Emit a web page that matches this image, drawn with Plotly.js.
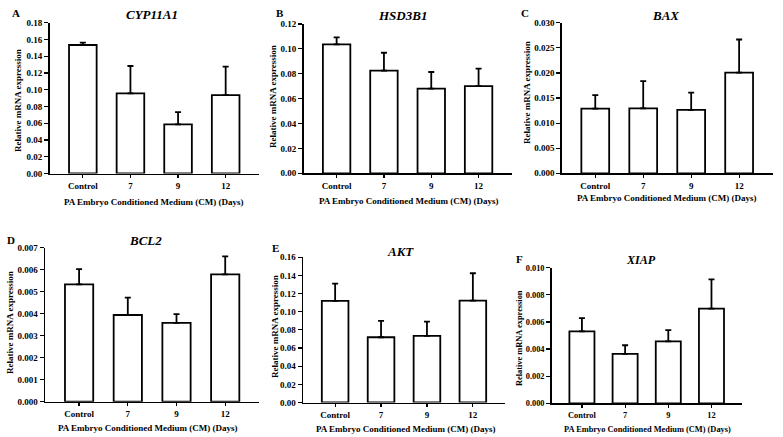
<!DOCTYPE html>
<html><head><meta charset="utf-8">
<script src="https://cdn.plot.ly/plotly-3.0.1.min.js"></script>
<style>html,body{margin:0;padding:0;background:#fff}#chart{width:783px;height:437px}</style>
</head><body><div id="chart"></div>
<script>
// ---- data ----
const categories = ['Control', '7', '9', '12'];
const geneNames = ['CYP11A1', 'HSD3B1', 'BAX', 'BCL2', 'AKT', 'XIAP'];
const panelLetters = ['A', 'B', 'C', 'D', 'E', 'F'];
const cyp11a1 = [0.1534, 0.0956, 0.0586, 0.0936];
const cyp11a1Err = [0.0028, 0.0327, 0.0147, 0.0339];
const hsd3b1 = [0.1036, 0.0825, 0.0680, 0.0701];
const hsd3b1Err = [0.0056, 0.0144, 0.0134, 0.0140];
const bax = [0.01288, 0.01295, 0.01262, 0.02005];
const baxErr = [0.0027, 0.0054, 0.00345, 0.0066];
const bcl2 = [0.00533, 0.00394, 0.00358, 0.00579];
const bcl2Err = [0.0007, 0.00079, 0.0004, 0.00082];
const akt = [0.1119, 0.0719, 0.0734, 0.1123];
const aktErr = [0.0191, 0.0180, 0.0158, 0.0301];
const xiap = [0.00531, 0.00364, 0.00457, 0.00698];
const xiapErr = [0.00097, 0.00064, 0.00083, 0.00216];
const yMax = [0.18, 0.12, 0.030, 0.007, 0.16, 0.010];
const yStep = [0.02, 0.02, 0.005, 0.001, 0.02, 0.002];
const yFormat = ['.2f', '.2f', '.3f', '.3f', '.2f', '.3f'];
const xTitle = 'PA Embryo Conditioned Medium (CM) (Days)';
const yTitle = 'Relative mRNA expression';

const values = [cyp11a1, hsd3b1, bax, bcl2, akt, xiap];
const errors = [cyp11a1Err, hsd3b1Err, baxErr, bcl2Err, aktErr, xiapErr];

// ---- layout geometry (pixels) ----
const W = 783, H = 437;
const boxes = [
  {x0: 49.5, x1: 259, y0: 22.7, y1: 173.5},
  {x0: 303.5, x1: 511.7, y0: 24, y1: 173.3},
  {x0: 561.7, x1: 772.7, y0: 22.7, y1: 173.3},
  {x0: 45, x1: 259.3, y0: 247.7, y1: 401.7},
  {x0: 303, x1: 505, y0: 257.3, y1: 402.5},
  {x0: 551.7, x1: 741.7, y0: 267.7, y1: 403.3}
];
const titlePos = [[152,14],[402,15],[665,15],[145,240],[400,251],[641,260]];
const letterPos = [[16,13],[280,13],[525,13],[11,240],[275,248],[519,259]];
const yTitlePos = [[18,101],[273,97],[527,93],[10,323],[275,327],[519,338]];
const xTitlePos = [[154,201.5],[409,201],[667,198.5],[148,428],[406,428.5],[647,429]];
const fontScale = [1,1,1,1,1,0.93];

const FAM = '"Liberation Serif", "Times New Roman", serif';
const catPos = categories.map((c, i) => i);

const traces = [];
const layout = {
  width: W, height: H, margin: {l:0, r:0, t:0, b:0},
  paper_bgcolor: '#fff', plot_bgcolor: '#fff', showlegend: false,
  font: {family: FAM, color: '#000'},
  annotations: []
};

for (let p = 0; p < 6; p++) {
  const n = p === 0 ? '' : String(p + 1);
  const b = boxes[p];
  const fs = 9 * fontScale[p];
  traces.push({
    type: 'bar', x: catPos, y: values[p], xaxis: 'x' + n, yaxis: 'y' + n,
    width: 0.58,
    marker: {color: '#fff', line: {color: '#000', width: 1.8}},
    error_y: {type: 'data', symmetric: false, array: errors[p],
      arrayminus: errors[p].map(() => 0), color: '#000', thickness: 1.8, width: 3},
    hoverinfo: 'skip'
  });
  const ticks = [];
  for (let k = 0; k <= Math.round(yMax[p] / yStep[p]); k++) ticks.push(k * yStep[p]);
  layout['xaxis' + n] = {
    domain: [b.x0 / W, b.x1 / W], anchor: 'y' + n,
    range: [-0.7, 3.7], fixedrange: true,
    tickvals: catPos, ticktext: categories,
    ticks: 'outside', ticklen: 3, tickwidth: 1.2, tickcolor: '#000',
    showline: true, linecolor: '#000', linewidth: 1.5,
    showgrid: false, zeroline: false,
    tickfont: {family: FAM, size: fs, weight: 'bold', color: '#000'}
  };
  layout['yaxis' + n] = {
    domain: [1 - b.y1 / H, 1 - b.y0 / H], anchor: 'x' + n,
    range: [0, yMax[p]], fixedrange: true,
    tickvals: ticks, tickformat: yFormat[p],
    ticks: 'outside', ticklen: 4, tickwidth: 1.2, tickcolor: '#000',
    showline: true, linecolor: '#000', linewidth: 1.5,
    showgrid: false, zeroline: false,
    tickfont: {family: FAM, size: fs, weight: 'bold', color: '#000'}
  };
  layout.annotations.push(
    {text: '<b><i>' + geneNames[p] + '</i></b>', x: titlePos[p][0] / W, y: 1 - titlePos[p][1] / H,
     xref: 'paper', yref: 'paper', showarrow: false, xanchor: 'center', yanchor: 'middle',
     font: {family: FAM, size: 13 * fontScale[p], color: '#000'}},
    {text: '<b>' + panelLetters[p] + '</b>', x: letterPos[p][0] / W, y: 1 - letterPos[p][1] / H,
     xref: 'paper', yref: 'paper', showarrow: false, xanchor: 'center', yanchor: 'middle',
     font: {family: FAM, size: 11, color: '#000'}},
    {text: '<b>' + yTitle + '</b>', x: yTitlePos[p][0] / W, y: 1 - yTitlePos[p][1] / H,
     xref: 'paper', yref: 'paper', showarrow: false, xanchor: 'center', yanchor: 'middle',
     textangle: -90, font: {family: FAM, size: fs, color: '#000'}},
    {text: '<b>' + xTitle + '</b>', x: xTitlePos[p][0] / W, y: 1 - xTitlePos[p][1] / H,
     xref: 'paper', yref: 'paper', showarrow: false, xanchor: 'center', yanchor: 'middle',
     font: {family: FAM, size: fs, color: '#000'}}
  );
}

Plotly.newPlot('chart', traces, layout, {displayModeBar: false, staticPlot: true});
</script>
</body></html>
